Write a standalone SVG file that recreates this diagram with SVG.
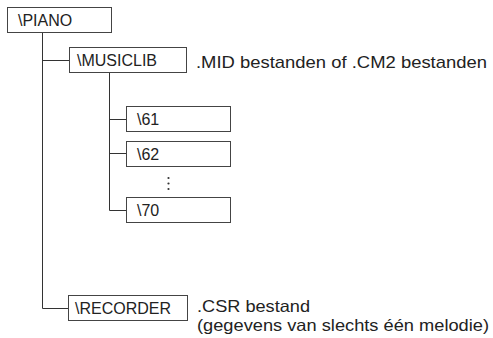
<svg xmlns="http://www.w3.org/2000/svg" width="493" height="338" viewBox="0 0 493 338">
<style>
.box{fill:#fff;stroke:#444;stroke-width:1}
.ln{fill:none;stroke:#333;stroke-width:1}
.lbl{font-family:"Liberation Sans",Arial,sans-serif;font-size:16px;fill:#222}
.desc{font-family:"Liberation Sans",Arial,sans-serif;font-size:17px;fill:#222}
.desc2{font-family:"Liberation Sans",Arial,sans-serif;font-size:16.5px;fill:#222}
.dot{fill:#333}
</style>
<g id="connectors">
<path class="ln" d="M42.5 32V308.5H68"/>
<path class="ln" d="M42.5 60.5H69"/>
<path class="ln" d="M109.5 72V210.5H126"/>
<path class="ln" d="M109.5 119.5H126"/>
<path class="ln" d="M109.5 153.5H126"/>
</g>
<g id="piano">
<rect class="box" x="7.5" y="7.5" width="104" height="25"/>
<text class="lbl" x="18" y="25.5">\PIANO</text>
</g>
<g id="musiclib">
<rect class="box" x="69.5" y="47.5" width="117" height="25"/>
<text class="lbl" x="77" y="66">\MUSICLIB</text>
<text class="desc" x="196" y="68" textLength="291" lengthAdjust="spacingAndGlyphs">.MID bestanden of .CM2 bestanden</text>
</g>
<g id="d61">
<rect class="box" x="126.5" y="106.5" width="104" height="25"/>
<text class="lbl" x="137" y="125">\61</text>
</g>
<g id="d62">
<rect class="box" x="126.5" y="141.5" width="104" height="25"/>
<text class="lbl" x="137" y="160">\62</text>
</g>
<g id="dots">
<circle class="dot" cx="168.5" cy="178" r="1.1"/>
<circle class="dot" cx="168.5" cy="183.5" r="1.1"/>
<circle class="dot" cx="168.5" cy="189" r="1.1"/>
</g>
<g id="d70">
<rect class="box" x="126.5" y="197.5" width="104" height="25"/>
<text class="lbl" x="137" y="216">\70</text>
</g>
<g id="recorder">
<rect class="box" x="68.5" y="295.5" width="119" height="25"/>
<text class="lbl" x="75" y="314">\RECORDER</text>
<text class="desc2" x="197" y="311.5" textLength="113" lengthAdjust="spacingAndGlyphs">.CSR bestand</text>
<text class="desc2" x="197" y="330.5" textLength="292" lengthAdjust="spacingAndGlyphs">(gegevens van slechts één melodie)</text>
</g>
</svg>
